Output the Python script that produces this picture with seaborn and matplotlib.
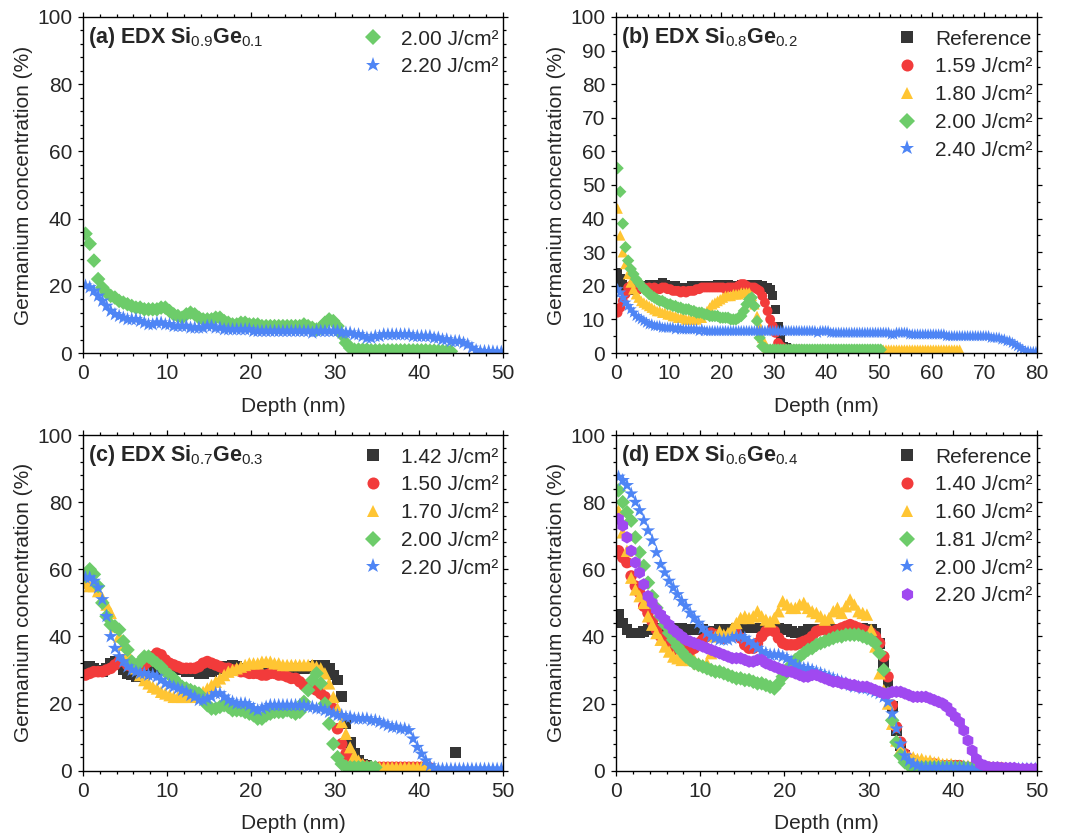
import numpy as np
import pandas as pd
import matplotlib
matplotlib.use('Agg')
import matplotlib.pyplot as plt
from matplotlib.ticker import MultipleLocator
from matplotlib.lines import Line2D
import seaborn as sns

sns.set_style('ticks')
plt.rcParams['font.family'] = ['Liberation Sans', 'DejaVu Sans']
plt.rcParams['mathtext.fontset'] = 'custom'
plt.rcParams['mathtext.rm'] = 'Liberation Sans'
plt.rcParams['mathtext.it'] = 'Liberation Sans:italic'
plt.rcParams['mathtext.bf'] = 'Liberation Sans:bold'

nan = np.nan
START = 0.3   # first depth sample (nm)
STEP = 0.5    # depth sampling step (nm)

# ---------------- (a) Si0.9Ge0.1 ----------------
a_200 = [35.5, 32.5, 27.5, 22, 19.5, 18, 17, 16.5, 15.5, 15,
         14.5, 14, 13.5, 13.5, 13, 13, 13, 13, 13.5, 13.5,
         12.5, 11.5, 11, 10.5, 11.5, 12, 11.5, 10.5, 10, 10,
         10, 10.5, 10.5, 9.5, 9, 8.5, 8.5, 9, 9, 8.5,
         8.5, 8.5, 8, 8, 8, 8, 8, 8, 8, 8,
         8, 8, 8.5, 8, 7.5, 7, 7.5, 9, 10, 9.5,
         8, 5.5, 3, 1.5, 1, 1, 1, 1, 0.8, 0.8,
         0.8, 0.8, 0.8, 0.8, 0.8, 0.8, 0.8, 0.8, 0.8, 0.8,
         0.8, 0.8, 0.7, 0.7, 0.6, 0.6, 0.5, 0.5]
a_220 = [20, 19.5, 18.5, 17, 15.5, 14, 12.5, 11.5, 11, 10.5,
         10, 10, 10, 9.5, 9, 8.5, 8.5, 9, 9, 8.5,
         8.5, 8, 8, 8, 8, 7.5, 7.5, 7.5, 7.5, 8,
         8, 7.5, 7.5, 7, 7, 7, 7, 7, 7, 7,
         6.5, 6.5, 6.5, 6.5, 6.5, 6.5, 6.5, 6.5, 6.5, 6.5,
         6.5, 6.5, 6.5, 6.5, 6, 6.5, 6.5, 6.5, 6.5, 6.5,
         6.5, 6, 6, 6, 5.5, 5.5, 5, 4.5, 4.5, 5,
         5, 5.5, 5.5, 5.5, 5.5, 5.5, 5.5, 5.5, 5, 5,
         5, 5, 5, 4.5, 4.5, 4, 4, 3.5, 3.5, 3.5,
         3, 2.5, 1.5, 0.8, 0.5, 0.5, 0.5, 0.4, 0.3, 0.3]

# ---------------- (b) Si0.8Ge0.2 ----------------
b_ref = [24, 22, 20.5, 19, 18.5, 18.5, 18.5, 19, 19.5, 20,
         20, 20, 20.5, 20.5, 20, 20.5, 20.5, 21, 20.5, 20,
         20, 20, 20, 19.5, 19.5, 19.5, 19.5, 19.5, 20, 20,
         20, 20, 20, 20, 20, 20, 20, 20, 20.5, 20.5,
         20.5, 20.5, 20.5, 20, 20, 20, 20, 20.5, 20.5, 20.5,
         20.5, 20.5, 20.5, 20.5, 20, 20, 19.5, 19.5, 19, 17,
         13, 8, 4, 2, 1.5, 1, 1, 1, 1, 1,
         1, 1]
b_159 = [12, 13.5, 15.5, 17.5, 19.5, 20, 20.5, 19.5, 19, 19.5,
         19.5, 19, 19.5, 19, 19.5, 19, 19, 19.5, 19.5, 19,
         19, 18.5, 18.5, 18.5, 18, 18.5, 18, 18.5, 18.5, 18.5,
         19, 19, 19.5, 19.5, 19.5, 19.5, 19.5, 19.5, 19.5, 19.5,
         19.5, 19, 19.5, 19.5, 19.5, 19.5, 20, 20.5, 20.5, 20,
         19.5, 19.5, 19.5, 19, 18.5, 17, 15, 12.5, 10, 8,
         6, 3, 2, 1.5, 1, 1, 1, 1, 1, 1,
         1]
b_180 = [43, 35, 30, 26.5, 23.5, 21, 19, 17.5, 16.5, 15.5,
         15, 14.5, 14, 13.5, 13, 12.5, 12.5, 12, 12, 11.5,
         11.5, 11, 11, 10.5, 10.5, 10.5, 10, 10, 10, 10,
         10, 10.5, 10.5, 11.5, 12.5, 13.5, 14.5, 15, 15.5, 16,
         16.5, 17, 17, 17, 17.5, 17.5, 17.5, 18, 18, 18,
         18, 17, 14.5, 11, 8, 4.5, 2.5, 1.5, 1, 1,
         1, 1, 1, 1, 1, 1, 1, 1, 1, 1,
         1, 1, 1, 1, 1, 1, 1, 1, 1, 1,
         1, 1, 1, 1, 1, 1, 1, 1, 1, 1,
         1, 1, 1, 1, 1, 1, 1, 1, 1, 1,
         1, 1, 1, 1, 1, 1, 1, 1, 1, 1,
         1, 1, 1, 1, 1, 1, 1, 1, 1, 1,
         1, 1, 1, 1, 1, 1, 1, 1, 1, 1,
         1]
b_200 = [55, 48, 38.5, 31.5, 27.5, 25, 23.5, 22, 21, 20,
         19, 18.5, 17.5, 17, 16.5, 16, 15.5, 15.5, 15, 14.5,
         14.5, 14, 14, 13.5, 13.5, 13, 13, 13, 12.5, 12.5,
         12, 12, 12, 11.5, 11.5, 11, 11, 11, 11, 10.5,
         10.5, 10.5, 10.5, 10, 10, 10, 10.5, 11, 12.5, 14.5,
         16, 16.5, 14, 9.5, 4.5, 2, 1.5, 1, 1, 1,
         1, 1, 1, 1, 1, 1, 1, 1, 1, 1,
         1, 1, 1, 1, 1, 1, 1, 1, 1, 1,
         1, 1, 1, 1, 1, 1, 1, 1, 1, 1,
         1, 1, 1, 1, 1, 1, 1, 1, 1, 1,
         1]
b_240 = [19, 18, 16.5, 15, 14, 13, 12, 11, 10.5, 10,
         9.5, 9, 8.5, 8.5, 8, 8, 8, 7.5, 7.5, 7.5,
         7.5, 7.5, 7, 7.5, 7, 7, 7, 7, 7, 7,
         7, 6.5, 7, 6.5, 6.5, 6.5, 6.5, 6.5, 6.5, 6.5,
         6.5, 6.5, 6.5, 6.5, 6.5, 6.5, 6.5, 6.5, 6.5, 6.5,
         6.5, 6.5, 6.5, 6.5, 6.5, 6.5, 6.5, 6.5, 6.5, 6.5,
         6.5, 6.5, 6.5, 6.5, 6.5, 6.5, 6.5, 6.5, 6.5, 6.5,
         6.5, 6.5, 6.5, 6.5, 6.5, 6.5, 6, 6.5, 6.5, 6.5,
         6.5, 6, 6, 6, 6, 6, 6, 6, 6, 6,
         6, 6, 6, 6, 6, 6, 6, 6, 6, 6,
         6, 6, 6, 6, 5.5, 5.5, 6, 6, 6, 6,
         6, 5.5, 5.5, 5.5, 5.5, 5.5, 5.5, 5.5, 5.5, 5.5,
         5.5, 5.5, 5.5, 5.5, 5.5, 5, 5, 5, 5, 5,
         5, 5, 5, 5, 5, 5, 5, 5, 5, 5,
         5, 5, 4.5, 4.5, 4.5, 4.5, 4, 4, 3.5, 3.5,
         3, 2.5, 2, 1.5, 1, 0.5, 0.5, 0.3, 0.3, 0.3]

# ---------------- (c) Si0.7Ge0.3 ----------------
c_142 = [30.5, 31, 30.5, 30, 29.5, 30.5, 32, 32.5, 31.5, 30,
         29, 28.5, 28, 28.5, 29, 29.5, 30, 30, 30, 30,
         30.5, 30.5, 30, 30, 29.5, 29.5, 29.5, 29, 29, 29.5,
         29.5, 30, 30.5, 31, 31, 31.5, 31, 30.5, 30, 30,
         30, 30, 30, 30, 30, 30, 30.5, 30.5, 30.5, 30.5,
         30.5, 30.5, 30.5, 30.5, 31, 31.5, 31.5, 31.5, 30.5, 28.5,
         27, 22, 14, 8.5, 5, 3, 2, 1.5, 1, 1,
         1, 1, 1, 1, nan, nan, nan, nan, nan, nan,
         nan, nan, nan, nan, nan, nan, nan, nan, 5.5, nan]
c_150 = [28.5, 29, 29.5, 29.5, 29.5, 30, 30.5, 31.5, 32.5, 33,
         31.5, 31, 31, 31, 31.5, 32.5, 34, 35, 34.5, 33,
         32, 31.5, 31, 30.5, 30.5, 30.5, 30.5, 31, 32, 32.5,
         32, 31.5, 31, 30.5, 30.5, 30, 30, 29.5, 29.5, 29,
         29, 29, 28.5, 28.5, 29, 29, 28.5, 28.5, 28, 27.5,
         27.5, 26.5, 25.5, 25, 24.5, 24, 23, 22, 20.5, 18.5,
         12.5, 8, 5, 3.5, 2.5, 2, 1.5, 1.2, 1, 1,
         1, 1, 1, 1, 1, 1, 1, 1, 1, 1,
         1, 1, 0.8]
c_170 = [56, 55, 55, 53.5, 51.5, 49.5, 47, 43, 40, 37.5,
         35, 32.5, 30.5, 28.5, 27, 26, 25, 24.5, 23.5, 23,
         22.5, 22, 22, 22, 22, 22, 22.5, 23, 23.5, 24.5,
         25.5, 26.5, 27.5, 28.5, 29.5, 30, 30.5, 31, 31.5, 32,
         32, 32, 32.5, 32.5, 32.5, 32, 32, 31.5, 31.5, 31.5,
         31.5, 31.5, 31.5, 31.5, 31.5, 31, 30.5, 29, 26, 22,
         18.5, 14.5, 11, 7, 4.5, 3, 2, 1.5, 1.2, 1,
         1, 1, 1, 1, 1, 1, 1, 1, 1, 1,
         1, 1, 0.8]
c_200 = [58, 60, 58.5, 55, 50, 46, 43.5, 43, 42, 38.5,
         36, 32.5, 31, 32.5, 34, 34, 33, 32, 31, 29.5,
         28.5, 27.5, 26, 25, 24.5, 24, 23.5, 23, 21, 19.5,
         18.5, 18.5, 19, 19.5, 19, 18, 18, 18, 17.5, 17,
         16.5, 15.5, 15.5, 16.5, 17, 17.5, 17.5, 17.5, 18, 17.5,
         17, 17.5, 20.5, 24, 27, 29, 26, 20, 14, 8,
         4, 2, 1.2, 1, 1, 1, 1, 1, 1, 1]
c_220 = [57.5, 57.5, 56.5, 54.5, 51, 46, 40, 36.5, 34, 32.5,
         31, 30, 29.5, 29, 29, 28.5, 28.5, 28, 27, 26,
         25.5, 25, 24.5, 24, 23.5, 22.5, 22, 21, 21, 21.5,
         22, 23, 23, 22, 21, 20.5, 20, 20, 20, 19.5,
         18.5, 18, 18.5, 19, 19.5, 19.5, 19.5, 19.5, 19.5, 19.5,
         19.5, 19.5, 19.5, 19, 19, 18.5, 18.5, 18, 17.5, 17,
         16.5, 16.5, 16, 16, 15.5, 15.5, 15.5, 15.5, 15, 15,
         14.5, 14, 13.5, 13, 13, 12.5, 12.5, 12, 9.5, 7,
         5, 3, 1.5, 0.8, 0.5, 0.5, 0.5, 0.5, 0.5, 0.5,
         0.5, 0.5, 0.5, 0.5, 0.5, 0.5, 0.5, 0.5, 0.5, 0.5]

# ---------------- (d) Si0.6Ge0.4 ----------------
d_ref = [46.5, 44, 42, 41, 41, 41, 41.5, 42, 42.5, 42.5,
         42.5, 42.5, 42.5, 42.5, 42.5, 42.5, 42, 42, 42, 42,
         42, 41.5, 41.5, 41.5, 42, 42, 42, 42, 42.5, 42.5,
         42.5, 42.5, 42.5, 42.5, 42.5, 42.5, 42.5, 42.5, 42.5, 42,
         42, 41.5, 41, 41, 41.5, 42, 42, 42, 42, 42,
         42, 42, 42, 42, 42.5, 42.5, 42.5, 42.5, 42.5, 42,
         42, 41, 38, 32, 26, 19, 12, 7.5, 4.5, 3,
         1.5, 1.5, 1.5, 1, 1, 1, 1, 1, 1, 1,
         1, 1, 1, 1, 1, 0.8, 0.8, 0.8, 0.8, 0.8,
         0.8, 0.8]
d_140 = [65.5, 63.5, 62, 58, 55, 53, 49, 47, 44.5, 42,
         40, 38.5, 37.5, 36, 36.5, 37, 36, 35.5, 36.5, 38,
         39, 40, 41, 40.5, 40, 39.5, 40, 41, 41, 39.5,
         37.5, 36.5, 36.5, 38, 40, 41.5, 42, 41.5, 39.5, 38,
         37.5, 37.5, 37.5, 38, 38.5, 39, 40, 41.5, 42, 42,
         41.5, 41.5, 42, 42.5, 43, 43.5, 43, 42.5, 42, 41.5,
         41, 40, 38, 34, 28, 19.5, 13, 8.5, 5, 3.5,
         3, 2.5, 2, 2, 2, 2, 1.5, 1.5, 1.5, 1.5,
         1.5, 1.5, 1, 1, 1, 1, 1, 1, 1, 0.8,
         0.8, 0.8]
d_160 = [77.5, 71, 65.5, 57.5, 54, 52, 50, 46, 43.5, 41,
         39, 37, 35.5, 34, 33.5, 33, 34, 33, 33, 32,
         31.5, 32, 35, 40, 41.5, 40.5, 41, 42.5, 44, 45.5,
         46, 45.5, 46, 47.5, 46, 45, 44.5, 45.5, 47.5, 50.5,
         49.5, 48.5, 48.5, 49.5, 50, 48.5, 47.5, 47, 46, 45,
         45.5, 47.5, 48.5, 47, 49, 51, 49.5, 47.5, 47, 46.5,
         42, 37, 29, 24, 20, 14, 9, 6.5, 5, 4,
         4, 3.5, 3.5, 3, 3, 2.5, 2.5, 2, 2, 2,
         1.5, 1.5, 1.5, 1.5, 1.5, 1.5, 1, 1, 1, 1,
         1, 1, 0.8, 0.5]
d_181 = [83.5, 80, 77, 74.5, 69.5, 65, 61, 56, 52, 48.5,
         46, 43.5, 41, 39, 37, 35.5, 34, 33, 32, 31.5,
         31, 30.5, 30, 29.5, 29.5, 29, 28.5, 28, 27.5, 27.5,
         27, 27, 26.5, 26, 26, 25.5, 25, 24.5, 26, 28,
         30, 31.5, 33, 34, 35, 36, 36.5, 37.5, 38, 38.5,
         39, 39.5, 40, 40, 40.5, 40.5, 40.5, 40.5, 40, 39.5,
         39, 38, 35, 30, 23, 15, 8.5, 4.5, 2.5, 1.5,
         1, 1, 1, 1, 1, 1, 1, 1, 1, 1,
         1, 1, 1, 0.8, 0.8, 0.8, 0.5, 0.5, 0.5, 0.5]
d_200 = [87.5, 86.5, 85, 82.5, 80, 77.5, 74.5, 71.5, 68.5, 65,
         61.5, 59, 56.5, 54.5, 52.5, 50.5, 49, 47, 45.5, 44,
         42.5, 41, 40, 39.5, 39, 39, 39, 39.5, 40, 40,
         39.5, 38.5, 37.5, 36.5, 35.5, 35, 34.5, 34.5, 34.5, 34,
         33.5, 32.5, 31.5, 31, 30.5, 30.5, 30, 29.5, 29, 28.5,
         28, 27.5, 27, 26.5, 26, 25.5, 25, 25, 24.5, 24.5,
         24, 23.5, 23, 22, 20.5, 17, 12.5, 8, 4.5, 3,
         2, 1.5, 1, 1, 1, 1, 1, 1, 1, 1,
         1, 0.8, 0.8, 0.8, 0.5, 0.5, 0.5, 0.5, 0.5, 0.5,
         0.5, 0.5, 0.5, 0.5, 0.5, 0.5, 0.5, 0.5, 0.5, 0.5]
d_220 = [75, 73, 69.5, 65.5, 62, 59, 55.5, 52, 50, 48,
         46.5, 45, 43.5, 42, 41, 40, 39, 38.5, 38, 37.5,
         37, 36.5, 36, 35.5, 35, 34.5, 34, 33.5, 33.5, 33.5,
         33, 32.5, 32.5, 33, 33, 32, 31.5, 31, 30.5, 30,
         29.5, 29.5, 29, 28.5, 28, 28, 28.5, 28.5, 28, 27.5,
         27, 26.5, 26.5, 26, 26, 25.5, 25.5, 25, 25, 25,
         24.5, 24, 23.5, 23, 23, 23.5, 23.5, 23.5, 23, 22.5,
         22, 22, 22, 22, 21.5, 21, 20.5, 20, 19, 17.5,
         16, 14.5, 12, 9, 6, 3.5, 2, 1.5, 1, 1,
         1, 0.8, 0.8, 0.8, 0.8, 0.5, 0.5, 0.5, 0.5, 0.5]

# ---------------- styling ----------------
COL = {'k': '#353535', 'r': '#F23B3B', 'y': '#FFC533', 'g': '#6DCC6A',
       'b': '#4E85F5', 'p': '#A049F0'}
MK = {'k': 's', 'r': 'o', 'y': '^', 'g': 'D', 'b': '*', 'p': 'h'}
SZ = {'k': 42, 'r': 48, 'y': 55, 'g': 38, 'b': 80, 'p': 55}

panels = [
    dict(title=r'(a) EDX Si$_{0.9}$Ge$_{0.1}$', xmax=50, ymaj=20, ymin=4, scale=1.45,
         series=[('2.00 J/cm²', a_200, 'g'), ('2.20 J/cm²', a_220, 'b')]),
    dict(title=r'(b) EDX Si$_{0.8}$Ge$_{0.2}$', xmax=80, ymaj=10, ymin=5, scale=1.05,
         series=[('Reference', b_ref, 'k'), ('1.59 J/cm²', b_159, 'r'),
                 ('1.80 J/cm²', b_180, 'y'), ('2.00 J/cm²', b_200, 'g'),
                 ('2.40 J/cm²', b_240, 'b')]),
    dict(title=r'(c) EDX Si$_{0.7}$Ge$_{0.3}$', xmax=50, ymaj=20, ymin=4, scale=1.45,
         series=[('1.42 J/cm²', c_142, 'k'), ('1.50 J/cm²', c_150, 'r'),
                 ('1.70 J/cm²', c_170, 'y'), ('2.00 J/cm²', c_200, 'g'),
                 ('2.20 J/cm²', c_220, 'b')]),
    dict(title=r'(d) EDX Si$_{0.6}$Ge$_{0.4}$', xmax=50, ymaj=20, ymin=4, scale=1.45,
         series=[('Reference', d_ref, 'k'), ('1.40 J/cm²', d_140, 'r'),
                 ('1.60 J/cm²', d_160, 'y'), ('1.81 J/cm²', d_181, 'g'),
                 ('2.00 J/cm²', d_200, 'b'), ('2.20 J/cm²', d_220, 'p')]),
]

W, H = 1067, 840
fig = plt.figure(figsize=(W / 100, H / 100), dpi=100)
rects = [(83, 17, 420, 336), (616, 17, 421, 336),
         (83, 435, 420, 335.7), (616, 435, 421, 335.7)]

FS = 15
for p, (l, t, w, h) in zip(panels, rects):
    ax = fig.add_axes([l / W, 1 - (t + h) / H, w / W, h / H])
    rows = []
    for lab, vals, c in p['series']:
        v = np.asarray(vals, dtype=float)
        d = START + STEP * np.arange(len(v))
        rows.append(pd.DataFrame({'depth': d, 'conc': v, 'label': lab}))
    df = pd.concat(rows, ignore_index=True)
    labels = [s[0] for s in p['series']]
    pal = {s[0]: COL[s[2]] for s in p['series']}
    mks = {s[0]: MK[s[2]] for s in p['series']}
    szs = {s[0]: SZ[s[2]] * p['scale'] for s in p['series']}
    sns.scatterplot(data=df, x='depth', y='conc', hue='label', style='label',
                    size='label', hue_order=labels, style_order=labels,
                    size_order=labels, palette=pal, markers=mks, sizes=szs,
                    linewidth=0, alpha=1, legend=False, ax=ax)
    ax.set_xlim(0, p['xmax'])
    ax.set_ylim(0, 100)
    ax.xaxis.set_major_locator(MultipleLocator(10))
    ax.xaxis.set_minor_locator(MultipleLocator(2))
    ax.yaxis.set_major_locator(MultipleLocator(p['ymaj']))
    ax.yaxis.set_minor_locator(MultipleLocator(p['ymin']))
    ax.tick_params(which='both', direction='out', top=True, right=True,
                   labeltop=False, labelright=False, color='black', width=0.9)
    ax.tick_params(which='major', length=3.8, labelsize=FS, pad=4)
    ax.tick_params(which='minor', length=2.0)
    for sp in ax.spines.values():
        sp.set_visible(True)
        sp.set_linewidth(1.0)
        sp.set_color('black')
    ax.set_xlabel('Depth (nm)', fontsize=FS, labelpad=10)
    ax.set_ylabel('Germanium concentration (%)', fontsize=FS, labelpad=3)
    ax.text(0.013, 0.94, p['title'], transform=ax.transAxes, fontsize=15.5,
            fontweight='bold', va='center', ha='left')
    handles = [Line2D([], [], linestyle='none', marker=MK[s[2]], color=COL[s[2]],
                      markeredgewidth=0,
                      markersize=(SZ[s[2]] * 1.0) ** 0.5 * 1.25)
               for s in p['series']]
    ax.legend(handles, labels, loc='upper right', bbox_to_anchor=(1.012, 0.99),
              frameon=False, fontsize=FS,
              handlelength=1.0, handletextpad=0.85, labelspacing=0.42,
              borderaxespad=0.0, borderpad=0.45)

fig.savefig('out.png', dpi=100)
